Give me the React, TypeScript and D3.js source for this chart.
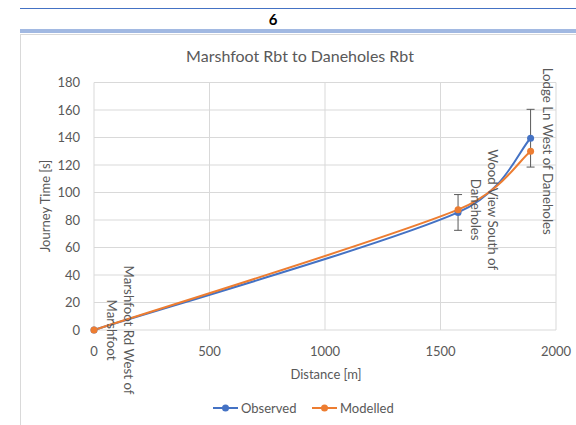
import React from "react";
import * as d3 from "d3";

const locations = ["Marshfoot Rd West of Marshfoot", "Wood View South of Daneholes", "Lodge Ln West of Daneholes"];
const labelLines = [["Marshfoot Rd West of", "Marshfoot"], ["Wood View South of", "Daneholes"], ["Lodge Ln West of Daneholes"]];
const distance = [0, 1576, 1890];
const observed = [0, 85.5, 139.5];
const observedError = [0, 13, 21];
const modelled = [0, 87.5, 130];
const xTicks = [0, 500, 1000, 1500, 2000];
const yTicks = [0, 20, 40, 60, 80, 100, 120, 140, 160, 180];

const FONT = "Lato, 'Open Sans', sans-serif";
const GREY = "#595959";
const BLUE = "#4472C4";
const ORANGE = "#ED7D31";

// Excel-like smoothed line: cubic Beziers with Catmull-Rom tangents, clamped to half of each adjacent segment
function smoothPath(pts: [number, number][]): string {
  const p = d3.path();
  const n = pts.length;
  if (n === 0) return "";
  p.moveTo(pts[0][0], pts[0][1]);
  const dist = (a: [number, number], b: [number, number]) => Math.hypot(b[0] - a[0], b[1] - a[1]);
  const tangent = (i: number): [number, number] => {
    const a = pts[Math.max(0, i - 1)];
    const b = pts[Math.min(n - 1, i + 1)];
    return [(b[0] - a[0]) / 6, (b[1] - a[1]) / 6];
  };
  const clamp = (t: [number, number], maxLen: number): [number, number] => {
    const l = Math.hypot(t[0], t[1]);
    if (l > maxLen && l > 0) return [(t[0] * maxLen) / l, (t[1] * maxLen) / l];
    return t;
  };
  for (let i = 0; i < n - 1; i++) {
    const a = pts[i];
    const b = pts[i + 1];
    const seg = dist(a, b);
    const t0 = clamp(tangent(i), seg / 2);
    const t1 = clamp(tangent(i + 1), seg / 2);
    p.bezierCurveTo(a[0] + t0[0], a[1] + t0[1], b[0] - t1[0], b[1] - t1[1], b[0], b[1]);
  }
  return p.toString();
}

export default function App() {
  const x = d3.scaleLinear().domain([0, 2000]).range([94, 556]);
  const y = d3.scaleLinear().domain([0, 180]).range([330, 82.5]);
  const toPts = (vals: number[]) => vals.map((v, i) => [x(distance[i]), y(v)] as [number, number]);

  return (
    <svg
      width={576}
      height={425}
      style={{ position: "absolute", left: 0, top: 0, background: "#fff" }}
      fontFamily={FONT}
    >
      {/* page header */}
      <line x1={20} x2={576} y1={8.5} y2={8.5} stroke={BLUE} strokeWidth={1.2} />
      <text x={273} y={25} textAnchor="middle" fontSize={15} fontWeight="bold" fill="#000">
        6
      </text>
      <line x1={20} x2={576} y1={30} y2={30} stroke={BLUE} strokeWidth={1} />
      <line x1={20} x2={576} y1={32} y2={32} stroke={BLUE} strokeWidth={1} />
      <rect x={20.5} y={34.5} width={600} height={420} fill="none" stroke="#d9d9d9" />

      <text x={300} y={62} textAnchor="middle" fontSize={16} fill={GREY}>
        Marshfoot Rbt to Daneholes Rbt
      </text>

      {/* grid */}
      {yTicks.map((t) => (
        <line key={"gy" + t} x1={x(0)} x2={x(2000)} y1={y(t)} y2={y(t)} stroke="#d9d9d9" strokeWidth={1} />
      ))}
      {xTicks.map((t) => (
        <line key={"gx" + t} x1={x(t)} x2={x(t)} y1={y(0)} y2={y(180)} stroke="#d9d9d9" strokeWidth={1} />
      ))}

      {/* tick labels */}
      {yTicks.map((t) => (
        <text key={"ty" + t} x={80} y={y(t) + 4.5} textAnchor="end" fontSize={13} fill={GREY}>
          {t}
        </text>
      ))}
      {xTicks.map((t) => (
        <text key={"tx" + t} x={x(t)} y={356} textAnchor="middle" fontSize={13} fill={GREY}>
          {t}
        </text>
      ))}

      <text x={326} y={379} textAnchor="middle" fontSize={13} fill={GREY}>
        Distance [m]
      </text>
      <text
        transform={`translate(50,${206}) rotate(-90)`}
        textAnchor="middle"
        fontSize={13}
        fill={GREY}
      >
        Journey Time [s]
      </text>

      {/* lines */}
      <path d={smoothPath(toPts(observed))} fill="none" stroke={BLUE} strokeWidth={2} />
      <path d={smoothPath(toPts(modelled))} fill="none" stroke={ORANGE} strokeWidth={2} />

      {/* error bars on observed */}
      {observed.map((v, i) =>
        observedError[i] > 0 ? (
          <g key={"eb" + i} stroke={GREY} strokeWidth={1}>
            <line x1={x(distance[i])} x2={x(distance[i])} y1={y(v + observedError[i])} y2={y(v - observedError[i])} />
            <line x1={x(distance[i]) - 4} x2={x(distance[i]) + 4} y1={y(v + observedError[i])} y2={y(v + observedError[i])} />
            <line x1={x(distance[i]) - 4} x2={x(distance[i]) + 4} y1={y(v - observedError[i])} y2={y(v - observedError[i])} />
          </g>
        ) : null
      )}

      {observed.map((v, i) => (
        <circle key={"o" + i} cx={x(distance[i])} cy={y(v)} r={3.5} fill={BLUE} />
      ))}
      {modelled.map((v, i) => (
        <circle key={"m" + i} cx={x(distance[i])} cy={y(v)} r={3.5} fill={ORANGE} />
      ))}

      {/* data labels (rotated) */}
      {modelled.map((v, i) => {
        const lines = labelLines[i];
        const n = lines.length;
        return (
          <g key={"lbl" + i} transform={`translate(${x(distance[i]) + 17 + (n - 1) * 17},${y(v)}) rotate(90)`}>
            <title>{locations[i]}</title>
            {lines.map((l, j) => (
              <text key={j} x={0} y={j * 17 + 4.5} textAnchor="middle" fontSize={13.3} fill={GREY}>
                {l}
              </text>
            ))}
          </g>
        );
      })}

      {/* legend */}
      <line x1={213} x2={238} y1={408} y2={408} stroke={BLUE} strokeWidth={2} />
      <circle cx={225.5} cy={408} r={3.5} fill={BLUE} />
      <text x={241} y={412.5} fontSize={13} fill={GREY}>
        Observed
      </text>
      <line x1={312} x2={337} y1={408} y2={408} stroke={ORANGE} strokeWidth={2} />
      <circle cx={324.5} cy={408} r={3.5} fill={ORANGE} />
      <text x={340} y={412.5} fontSize={13} fill={GREY}>
        Modelled
      </text>
    </svg>
  );
}
